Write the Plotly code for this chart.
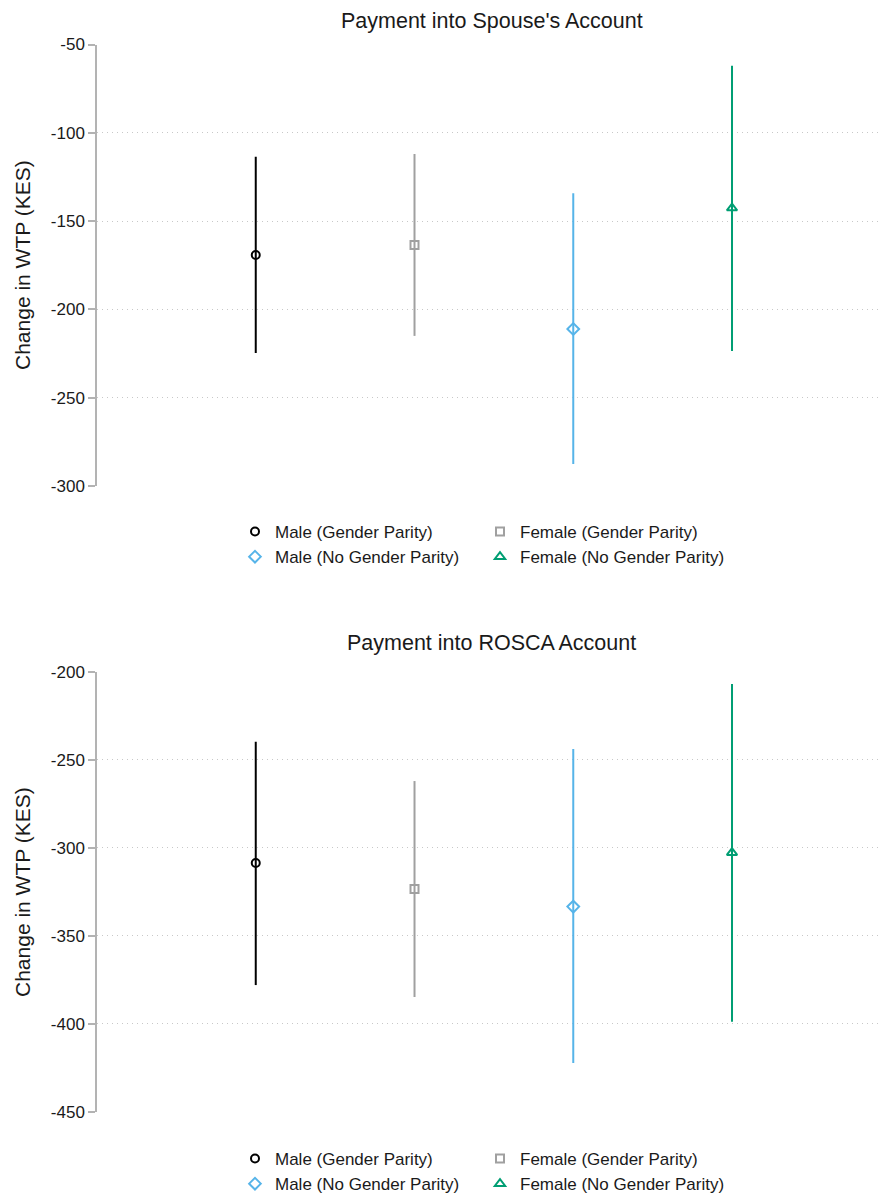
import plotly.graph_objects as go

groups = ["Male (Gender Parity)", "Female (Gender Parity)",
          "Male (No Gender Parity)", "Female (No Gender Parity)"]
xpos = [1, 2, 3, 4]

spouse_est = [-169.2, -163.5, -211.1, -142.6]
spouse_lo = [-224.7, -215.0, -287.5, -223.6]
spouse_hi = [-113.5, -112.0, -134.3, -62.0]
spouse_ticks = [-300, -250, -200, -150, -100, -50]
spouse_ticklabels = ["-300", "-250", "-200", "-150", "-100", "-50"]

rosca_est = [-308.6, -323.4, -333.4, -302.7]
rosca_lo = [-378.0, -384.8, -422.3, -398.8]
rosca_hi = [-239.6, -262.0, -243.8, -206.8]
rosca_ticks = [-450, -400, -350, -300, -250, -200]
rosca_ticklabels = ["-450", "-400", "-350", "-300", "-250", "-200"]

colors = ["#000000", "#A0A0A0", "#56B4E9", "#009E73"]
symbols = ["circle-open", "square-open", "diamond-open", "triangle-up-open"]
sizes = [8, 8, 9, 9]

FONT = "Liberation Sans, Arial, sans-serif"
TXT = "#1a1a1a"

fig = go.Figure()

panels = [
    (spouse_est, spouse_lo, spouse_hi, "x", "y", ["legend", "legend2", "legend", "legend2"]),
    (rosca_est, rosca_lo, rosca_hi, "x2", "y2", ["legend3", "legend4", "legend3", "legend4"]),
]
for est, lo, hi, xa, ya, legs in panels:
    for i in range(4):
        fig.add_trace(go.Scatter(
            x=[xpos[i]], y=[est[i]], mode="markers", name=groups[i],
            xaxis=xa, yaxis=ya, legend=legs[i],
            marker=dict(symbol=symbols[i], size=sizes[i], color=colors[i],
                        line=dict(width=2, color=colors[i])),
            error_y=dict(type="data", symmetric=False,
                         array=[hi[i] - est[i]], arrayminus=[est[i] - lo[i]],
                         color=colors[i], thickness=2, width=0),
        ))

# page body has an 8px default margin; work in screen pixels and convert
OFF = 8
W = 886 - OFF
H = 1201 - OFF
LEFT = 97 - OFF
PW = W - LEFT

def py(screen_y):
    return 1 - (screen_y - OFF) / H

def px(screen_x):
    return (screen_x - OFF - LEFT) / PW

common_y = dict(showgrid=True, gridcolor="#c8c8c8", griddash="1px,4px", gridwidth=1,
                showline=True, linecolor="#b3b3b3", linewidth=1.5,
                ticks="outside", ticklen=7, tickcolor="#b3b3b3", tickwidth=1.5,
                tickfont=dict(size=17, color=TXT, family=FONT),
                zeroline=False, automargin=False)
common_x = dict(range=[0, 4.97], showgrid=False, showline=False, showticklabels=False,
                ticks="", zeroline=False, automargin=False)

legend_common = dict(orientation="v", bgcolor="rgba(0,0,0,0)",
                     font=dict(size=17, color=TXT, family=FONT),
                     xanchor="left", yanchor="top", itemwidth=30, tracegroupgap=0)

fig.update_layout(
    width=W, height=H,
    margin=dict(l=LEFT, r=0, t=0, b=0, autoexpand=False),
    paper_bgcolor="white", plot_bgcolor="white",
    font=dict(family=FONT, color=TXT),
    xaxis=dict(domain=[0, 1], anchor="y", **common_x),
    yaxis=dict(domain=[py(486), py(44.5)], range=[-300, -50], anchor="x",
               tickvals=spouse_ticks, ticktext=spouse_ticklabels, **common_y),
    xaxis2=dict(domain=[0, 1], anchor="y2", **common_x),
    yaxis2=dict(domain=[py(1111.7), py(672)], range=[-450, -200], anchor="x2",
                tickvals=rosca_ticks, ticktext=rosca_ticklabels, **common_y),
    legend=dict(x=px(235), y=py(514), **legend_common),
    legend2=dict(x=px(480), y=py(514), **legend_common),
    legend3=dict(x=px(235), y=py(1141), **legend_common),
    legend4=dict(x=px(480), y=py(1141), **legend_common),
    showlegend=True,
)

ann = [
    dict(text="Payment into Spouse's Account", x=0.5, y=py(8), xref="paper", yref="paper",
         showarrow=False, font=dict(size=21.5, color=TXT, family=FONT), xanchor="center", yanchor="top",
         yshift=1),
    dict(text="Payment into ROSCA Account", x=0.5, y=py(643), xref="paper", yref="paper",
         showarrow=False, font=dict(size=21.5, color=TXT, family=FONT), xanchor="center", yanchor="middle"),
    dict(text="Change in WTP (KES)", x=px(22), y=py(265), xref="paper", yref="paper",
         textangle=-90, showarrow=False, font=dict(size=21, color=TXT, family=FONT),
         xanchor="center", yanchor="middle"),
    dict(text="Change in WTP (KES)", x=px(22), y=py(892), xref="paper", yref="paper",
         textangle=-90, showarrow=False, font=dict(size=21, color=TXT, family=FONT),
         xanchor="center", yanchor="middle"),
]
fig.update_layout(annotations=ann)

fig.write_html("out.html")
